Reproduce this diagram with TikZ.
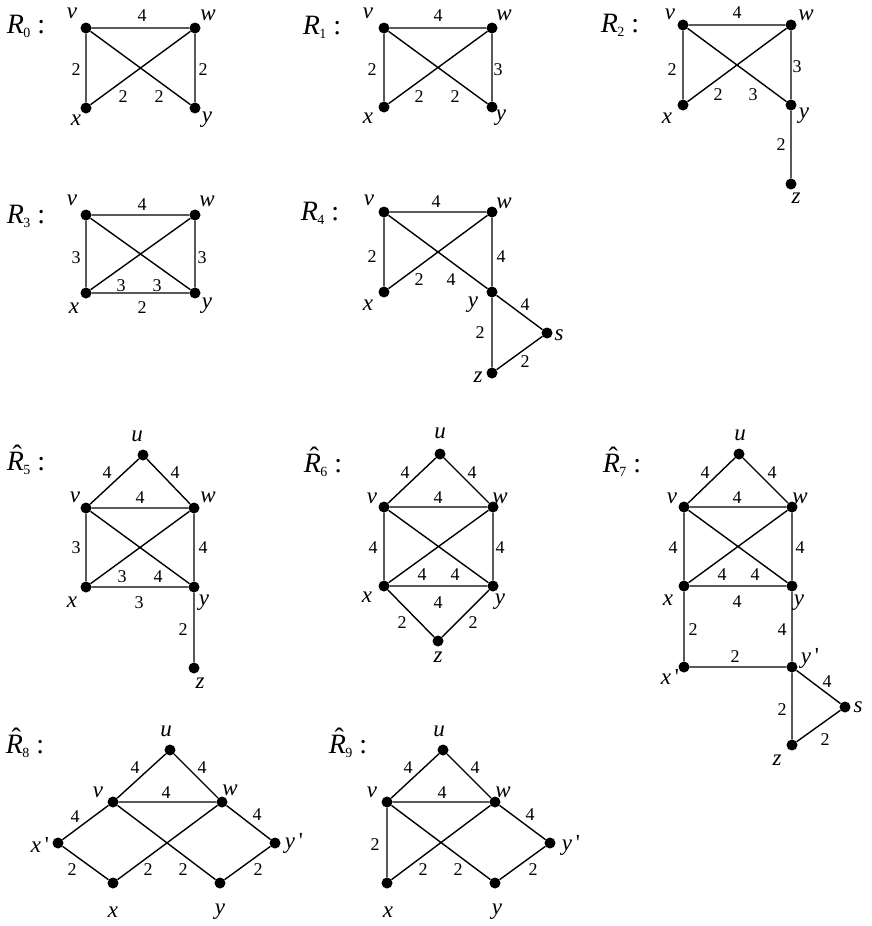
\documentclass[tikz,border=0pt]{standalone}
\usepackage{fontspec}
\setmainfont{Liberation Serif}
\newcommand\Rt[1]{\textit{R}\kern-0.5pt\raisebox{-4pt}{\fontsize{14}{14}\selectfont #1}\hspace{7pt}:}
\newcommand\Rht[1]{\ooalign{\textit{R}\cr\hidewidth\kern4pt\raisebox{6pt}{ˆ}\hidewidth\cr}\kern-0.5pt\raisebox{-4pt}{\fontsize{14}{14}\selectfont #1}\hspace{7pt}:}
\newcommand\pr{\,\textup{\textquotesingle}}
\tikzset{
 dot/.style={circle, fill=black, inner sep=0pt, minimum size=11pt},
 vlab/.style={font=\fontsize{23}{23}\selectfont\itshape, inner sep=0pt},
 num/.style={font=\fontsize{18}{18}\selectfont, inner sep=0pt},
 ttl/.style={font=\fontsize{28}{28}\selectfont, inner sep=0pt},
 edge/.style={line width=1.4pt},
}
\begin{document}
\begin{tikzpicture}[x=1pt,y=-1pt]
\useasboundingbox[fill=white] (0,0) rectangle (872,926);
% ---------- R0
\node[ttl] (A-t) at (26,26) {\Rt{0}};
\node[dot] (A-v) at (86,28) {};
\node[dot] (A-w) at (195,28) {};
\node[dot] (A-x) at (86,108) {};
\node[dot] (A-y) at (195,108) {};
\draw[edge] (A-v)--(A-w) (A-v)--(A-x) (A-w)--(A-y) (A-v)--(A-y) (A-w)--(A-x);
\node[vlab] (A-lv) at (72,13) {v};
\node[vlab] (A-lw) at (208,15) {w};
\node[vlab] (A-lx) at (76,120) {x};
\node[vlab] (A-ly) at (207,120) {y};
\node[num] (A-n1) at (142,16) {4};
\node[num] (A-n2) at (76,70) {2};
\node[num] (A-n3) at (203,70) {2};
\node[num] (A-n4) at (123,97) {2};
\node[num] (A-n5) at (159,97) {2};
% ---------- R1
\node[ttl] (B-t) at (322,27) {\Rt{1}};
\node[dot] (B-v) at (384,28) {};
\node[dot] (B-w) at (492,28) {};
\node[dot] (B-x) at (384,107) {};
\node[dot] (B-y) at (492,107) {};
\draw[edge] (B-v)--(B-w) (B-v)--(B-x) (B-w)--(B-y) (B-v)--(B-y) (B-w)--(B-x);
\node[vlab] (B-lv) at (368,13) {v};
\node[vlab] (B-lw) at (504,15) {w};
\node[vlab] (B-lx) at (368,118) {x};
\node[vlab] (B-ly) at (501,118) {y};
\node[num] (B-n1) at (438,16) {4};
\node[num] (B-n2) at (372,70) {2};
\node[num] (B-n3) at (498,70) {3};
\node[num] (B-n4) at (419,97) {2};
\node[num] (B-n5) at (455,97) {2};
% ---------- R2
\node[ttl] (C-t) at (620,25) {\Rt{2}};
\node[dot] (C-v) at (683,25) {};
\node[dot] (C-w) at (791,25) {};
\node[dot] (C-x) at (683,105) {};
\node[dot] (C-y) at (791,105) {};
\node[dot] (C-z) at (791,184) {};
\draw[edge] (C-v)--(C-w) (C-v)--(C-x) (C-w)--(C-y) (C-v)--(C-y) (C-w)--(C-x) (C-y)--(C-z);
\node[vlab] (C-lv) at (670,14) {v};
\node[vlab] (C-lw) at (806,15) {w};
\node[vlab] (C-lx) at (667,118) {x};
\node[vlab] (C-ly) at (804,116) {y};
\node[vlab] (C-lz) at (796,198) {z};
\node[num] (C-n1) at (737,13) {4};
\node[num] (C-n2) at (672,70) {2};
\node[num] (C-n3) at (797,67) {3};
\node[num] (C-n4) at (718,95) {2};
\node[num] (C-n5) at (753,95) {3};
\node[num] (C-n6) at (781,145) {2};
% ---------- R3
\node[ttl] (D-t) at (26,216) {\Rt{3}};
\node[dot] (D-v) at (86,215) {};
\node[dot] (D-w) at (195,215) {};
\node[dot] (D-x) at (86,293) {};
\node[dot] (D-y) at (195,293) {};
\draw[edge] (D-v)--(D-w) (D-v)--(D-x) (D-w)--(D-y) (D-x)--(D-y) (D-v)--(D-y) (D-w)--(D-x);
\node[vlab] (D-lv) at (72,200) {v};
\node[vlab] (D-lw) at (207,201) {w};
\node[vlab] (D-lx) at (74,308) {x};
\node[vlab] (D-ly) at (207,306) {y};
\node[num] (D-n1) at (142,205) {4};
\node[num] (D-n2) at (76,258) {3};
\node[num] (D-n3) at (202,258) {3};
\node[num] (D-n4) at (121,286) {3};
\node[num] (D-n5) at (157,286) {3};
\node[num] (D-n6) at (142,308) {2};
% ---------- R4
\node[ttl] (E-t) at (320,213) {\Rt{4}};
\node[dot] (E-v) at (384,212) {};
\node[dot] (E-w) at (492,212) {};
\node[dot] (E-x) at (384,292) {};
\node[dot] (E-y) at (492,292) {};
\node[dot] (E-s) at (547,333) {};
\node[dot] (E-z) at (492,373) {};
\draw[edge] (E-v)--(E-w) (E-v)--(E-x) (E-w)--(E-y) (E-v)--(E-y) (E-w)--(E-x) (E-y)--(E-s) (E-y)--(E-z) (E-z)--(E-s);
\node[vlab] (E-lv) at (369,200) {v};
\node[vlab] (E-lw) at (504,203) {w};
\node[vlab] (E-lx) at (368,305) {x};
\node[vlab] (E-ly) at (473,305) {y};
\node[vlab] (E-ls) at (559,335) {s};
\node[vlab] (E-lz) at (478,377) {z};
\node[num] (E-n1) at (436,202) {4};
\node[num] (E-n2) at (372,257) {2};
\node[num] (E-n3) at (501,257) {4};
\node[num] (E-n4) at (419,280) {2};
\node[num] (E-n5) at (451,280) {4};
\node[num] (E-n6) at (525,305) {4};
\node[num] (E-n7) at (480,333) {2};
\node[num] (E-n8) at (525,362) {2};
% ---------- R5 hat
\node[ttl] (F-t) at (26,463) {\Rht{5}};
\node[dot] (F-u) at (143,455) {};
\node[dot] (F-v) at (86,508) {};
\node[dot] (F-w) at (194,508) {};
\node[dot] (F-x) at (86,587) {};
\node[dot] (F-y) at (194,587) {};
\node[dot] (F-z) at (194,668) {};
\draw[edge] (F-u)--(F-v) (F-u)--(F-w) (F-v)--(F-w) (F-v)--(F-x) (F-w)--(F-y) (F-x)--(F-y) (F-v)--(F-y) (F-w)--(F-x) (F-y)--(F-z);
\node[vlab] (F-lu) at (137,436) {u};
\node[vlab] (F-lv) at (75,497) {v};
\node[vlab] (F-lw) at (208,497) {w};
\node[vlab] (F-lx) at (72,602) {x};
\node[vlab] (F-ly) at (204,603) {y};
\node[vlab] (F-lz) at (200,683) {z};
\node[num] (F-n1) at (107,473) {4};
\node[num] (F-n2) at (175,473) {4};
\node[num] (F-n3) at (140,498) {4};
\node[num] (F-n4) at (76,548) {3};
\node[num] (F-n5) at (203,548) {4};
\node[num] (F-n6) at (122,577) {3};
\node[num] (F-n7) at (158,577) {4};
\node[num] (F-n8) at (139,603) {3};
\node[num] (F-n9) at (183,630) {2};
% ---------- R6 hat
\node[ttl] (G-t) at (323,465) {\Rht{6}};
\node[dot] (G-u) at (440,454) {};
\node[dot] (G-v) at (384,507) {};
\node[dot] (G-w) at (493,507) {};
\node[dot] (G-x) at (384,586) {};
\node[dot] (G-y) at (493,586) {};
\node[dot] (G-z) at (438,641) {};
\draw[edge] (G-u)--(G-v) (G-u)--(G-w) (G-v)--(G-w) (G-v)--(G-x) (G-w)--(G-y) (G-x)--(G-y) (G-v)--(G-y) (G-w)--(G-x) (G-x)--(G-z) (G-y)--(G-z);
\node[vlab] (G-lu) at (440,433) {u};
\node[vlab] (G-lv) at (372,498) {v};
\node[vlab] (G-lw) at (500,498) {w};
\node[vlab] (G-lx) at (367,597) {x};
\node[vlab] (G-ly) at (500,602) {y};
\node[vlab] (G-lz) at (438,657) {z};
\node[num] (G-n1) at (405,473) {4};
\node[num] (G-n2) at (472,473) {4};
\node[num] (G-n3) at (438,498) {4};
\node[num] (G-n4) at (373,548) {4};
\node[num] (G-n5) at (500,548) {4};
\node[num] (G-n6) at (422,575) {4};
\node[num] (G-n7) at (455,575) {4};
\node[num] (G-n8) at (438,603) {4};
\node[num] (G-n9) at (402,623) {2};
\node[num] (G-n10) at (473,623) {2};
% ---------- R7 hat
\node[ttl] (H-t) at (622,465) {\Rht{7}};
\node[dot] (H-u) at (739,454) {};
\node[dot] (H-v) at (684,507) {};
\node[dot] (H-w) at (792,507) {};
\node[dot] (H-x) at (684,586) {};
\node[dot] (H-y) at (792,586) {};
\node[dot] (H-xp) at (684,667) {};
\node[dot] (H-yp) at (792,667) {};
\node[dot] (H-s) at (845,707) {};
\node[dot] (H-z) at (792,745) {};
\draw[edge] (H-u)--(H-v) (H-u)--(H-w) (H-v)--(H-w) (H-v)--(H-x) (H-w)--(H-y) (H-x)--(H-y) (H-v)--(H-y) (H-w)--(H-x)
  (H-x)--(H-xp) (H-y)--(H-yp) (H-xp)--(H-yp) (H-yp)--(H-s) (H-yp)--(H-z) (H-z)--(H-s);
\node[vlab] (H-lu) at (740,435) {u};
\node[vlab] (H-lv) at (672,498) {v};
\node[vlab] (H-lw) at (800,498) {w};
\node[vlab] (H-lx) at (668,600) {x};
\node[vlab] (H-ly) at (799,603) {y};
\node[vlab] (H-lyp) at (810,658) {y\pr};
\node[vlab] (H-lxp) at (670,677) {x\pr};
\node[vlab] (H-ls) at (858,707) {s};
\node[vlab] (H-lz) at (777,760) {z};
\node[num] (H-n1) at (705,473) {4};
\node[num] (H-n2) at (772,473) {4};
\node[num] (H-n3) at (737,498) {4};
\node[num] (H-n4) at (673,548) {4};
\node[num] (H-n5) at (800,548) {4};
\node[num] (H-n6) at (722,575) {4};
\node[num] (H-n7) at (755,575) {4};
\node[num] (H-n8) at (737,602) {4};
\node[num] (H-n9) at (693,630) {2};
\node[num] (H-n10) at (782,630) {4};
\node[num] (H-n11) at (735,657) {2};
\node[num] (H-n12) at (827,682) {4};
\node[num] (H-n13) at (782,710) {2};
\node[num] (H-n14) at (825,740) {2};
% ---------- R8 hat
\node[ttl] (I-t) at (25,746) {\Rht{8}};
\node[dot] (I-u) at (170,750) {};
\node[dot] (I-v) at (113,802) {};
\node[dot] (I-w) at (222,802) {};
\node[dot] (I-xp) at (58,843) {};
\node[dot] (I-yp) at (275,843) {};
\node[dot] (I-x) at (113,883) {};
\node[dot] (I-y) at (220,883) {};
\draw[edge] (I-u)--(I-v) (I-u)--(I-w) (I-v)--(I-w) (I-v)--(I-xp) (I-w)--(I-yp) (I-xp)--(I-x) (I-v)--(I-y) (I-w)--(I-x) (I-y)--(I-yp);
\node[vlab] (I-lu) at (166,731) {u};
\node[vlab] (I-lv) at (98,792) {v};
\node[vlab] (I-lw) at (230,790) {w};
\node[vlab] (I-lxp) at (40,845) {x\pr};
\node[vlab] (I-lyp) at (294,843) {y\pr};
\node[vlab] (I-lx) at (113,912) {x};
\node[vlab] (I-ly) at (220,912) {y};
\node[num] (I-n1) at (135,768) {4};
\node[num] (I-n2) at (202,768) {4};
\node[num] (I-n3) at (166,793) {4};
\node[num] (I-n4) at (75,817) {4};
\node[num] (I-n5) at (257,815) {4};
\node[num] (I-n6) at (72,870) {2};
\node[num] (I-n7) at (148,870) {2};
\node[num] (I-n8) at (183,870) {2};
\node[num] (I-n9) at (258,870) {2};
% ---------- R9 hat
\node[ttl] (J-t) at (348,746) {\Rht{9}};
\node[dot] (J-u) at (443,750) {};
\node[dot] (J-v) at (387,802) {};
\node[dot] (J-w) at (495,802) {};
\node[dot] (J-yp) at (550,843) {};
\node[dot] (J-x) at (387,883) {};
\node[dot] (J-y) at (495,883) {};
\draw[edge] (J-u)--(J-v) (J-u)--(J-w) (J-v)--(J-w) (J-v)--(J-x) (J-v)--(J-y) (J-w)--(J-x) (J-w)--(J-yp) (J-y)--(J-yp);
\node[vlab] (J-lu) at (439,731) {u};
\node[vlab] (J-lv) at (372,792) {v};
\node[vlab] (J-lw) at (503,792) {w};
\node[vlab] (J-lyp) at (571,845) {y\pr};
\node[vlab] (J-lx) at (388,912) {x};
\node[vlab] (J-ly) at (497,912) {y};
\node[num] (J-n1) at (408,768) {4};
\node[num] (J-n2) at (475,768) {4};
\node[num] (J-n3) at (442,793) {4};
\node[num] (J-n4) at (375,845) {2};
\node[num] (J-n5) at (530,815) {4};
\node[num] (J-n6) at (423,870) {2};
\node[num] (J-n7) at (458,870) {2};
\node[num] (J-n8) at (533,870) {2};
\end{tikzpicture}
\end{document}
